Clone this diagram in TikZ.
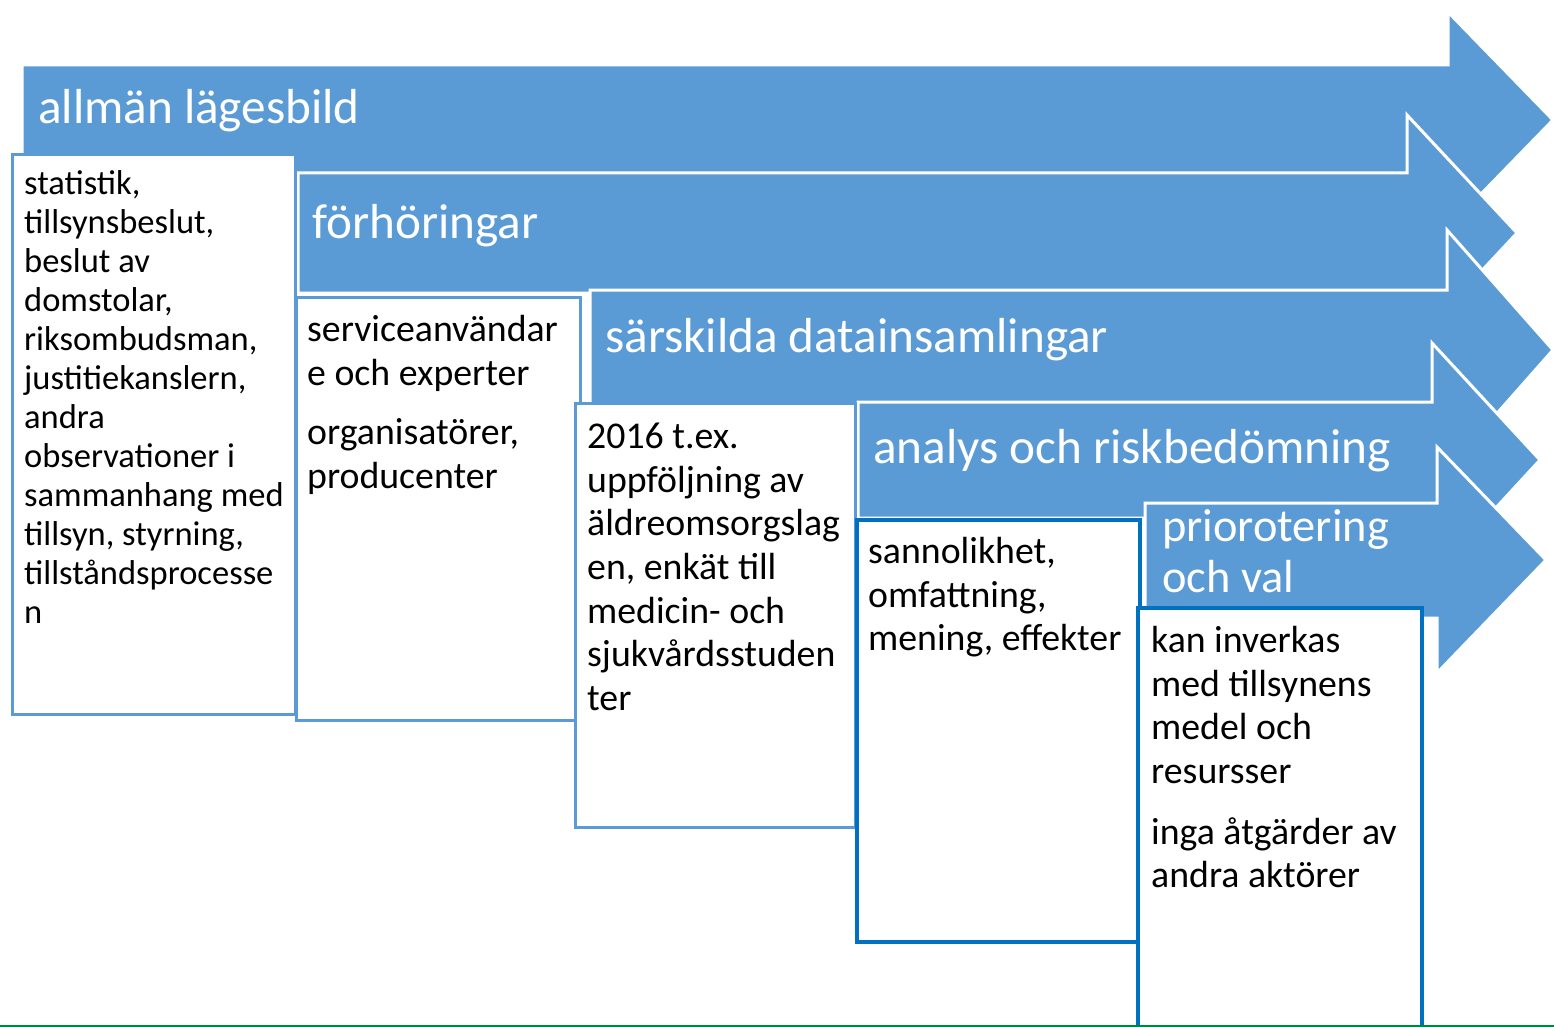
\documentclass[tikz,border=0pt]{standalone}
\usepackage{fontspec}
\setmainfont{Carlito}
\definecolor{flowblue}{HTML}{5B9BD5}
\definecolor{edgeblue}{HTML}{0070C0}
\definecolor{rulegreen}{HTML}{00853E}
\tikzset{
  flow/.style={fill=flowblue,draw=white,line width=3pt,line join=miter},
  box/.style={draw=#1,fill=white,inner sep=0,outer sep=0,anchor=north west},
  head/.style={text=white,inner sep=0,anchor=base west,font=\fontsize{49.2}{51}\selectfont},
  body/.style={text=black,inner sep=0,anchor=north west,align=left,font=\fontsize{37.8}{43.6}\selectfont},
  small body/.style={body,font=\fontsize{34.5}{39}\selectfont},
}
\newcommand\topstrut{\rule{0pt}{32pt}}

\begin{document}
\begin{tikzpicture}[x=1pt,y=-1pt]
  \useasboundingbox (0,0) rectangle (1554,1027);
  \fill[white] (0,0) rectangle (1554,1027);
  % the five arrows, left/top/bottom/head x/tip x/centre/half head
  \foreach \l/\t/\b/\hx/\tx/\c/\hh in {22/65/175/1448/1553/120/108,
      298/173/293/1407/1517/233/118, 590/290/410/1447/1553/350/120,
      858/402/518/1432/1540/460/117, 1145/503/618/1437/1546/560/113}
    \draw[flow] (\l,\t) -- (\hx,\t) -- (\hx,\c-\hh) -- (\tx,\c)
      -- (\hx,\c+\hh) -- (\hx,\b) -- (\l,\b) -- cycle;

  % boxes under the arrows
  \foreach \n/\x/\y/\w/\h/\col/\lw in {1/12/155/283/559/flowblue/3,
      2/296/297/284/423/flowblue/3, 3/575/403/280/424/flowblue/3,
      4/857/520/283/422/edgeblue/4, 5/1138/608/284/440/edgeblue/3.5}
    \node[box=\col,line width=\lw pt,minimum width=\w pt,minimum height=\h pt] (box\n) at (\x,\y) {};

  % arrow titles
  \node[head] (lage) at (38,124) {allmän lägesbild};
  \node[head] (forhor) at (312,238) {förhöringar};
  \node[head] (data) at (605,352) {särskilda datainsamlingar};
  \node[head] (analys) at (873,463) {analys och riskbedömning};
  \node[head,anchor=north west,align=left,font=\fontsize{46.4}{51}\selectfont] (prio) at (1162,501)
    {\rule{0pt}{40pt}priorotering\\och val};

  % box texts
  \node[small body] (stat) at (24,162) {\topstrut statistik,\\tillsynsbeslut,\\beslut av\\domstolar,\\riksombudsman,\\justitiekanslern,\\andra\\observationer i\\sammanhang med\\tillsyn, styrning,\\tillståndsprocesse\\n};
  \node[body] (users) at (307,309.5) {\topstrut serviceanvändar\\e och experter\\[16pt]organisatörer,\\producenter};
  \node[body] (study) at (587,416.5) {\topstrut 2016 t.ex.\\uppföljning av\\äldreomsorgslag\\en, enkät till\\medicin- och\\sjukvårdsstuden\\ter};
  \node[body] (risk) at (868,531.5) {\topstrut sannolikhet,\\omfattning,\\mening, effekter};
  \node[body] (means) at (1151,620.5) {\topstrut kan inverkas\\med tillsynens\\medel och\\resursser\\[17pt]inga åtgärder av\\andra aktörer};

  \draw[rulegreen,line width=1.5pt] (0,1026) -- (1554,1026);
\end{tikzpicture}
\end{document}
